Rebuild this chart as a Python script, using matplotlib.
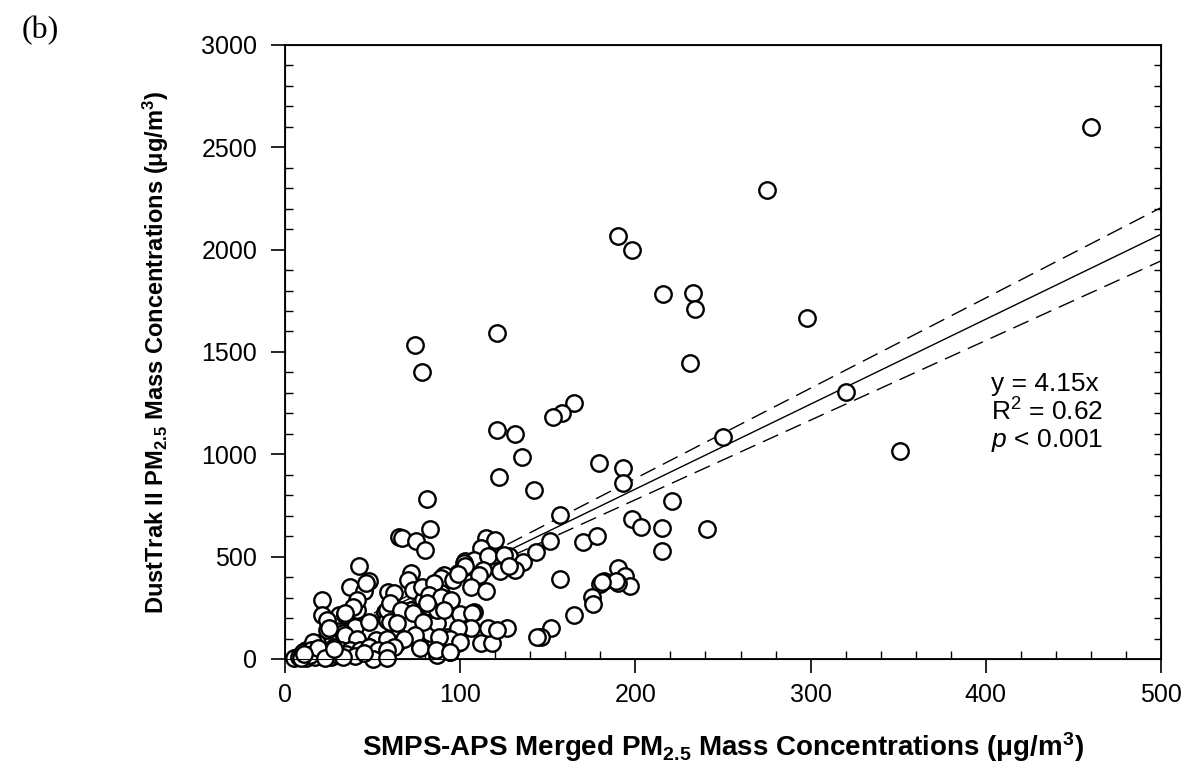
import numpy as np
import matplotlib.pyplot as plt
from matplotlib.ticker import MultipleLocator, NullFormatter

plt.rcParams['font.family'] = ['Liberation Sans', 'DejaVu Sans']
plt.rcParams['mathtext.fontset'] = 'custom'
plt.rcParams['mathtext.rm'] = 'Liberation Sans'
plt.rcParams['mathtext.it'] = 'Liberation Sans:italic'
plt.rcParams['mathtext.bf'] = 'Liberation Sans:bold'

# SMPS-APS merged PM2.5 (x) vs DustTrak II PM2.5 (y), ug/m3
smps = [460, 275, 190, 198, 216, 233, 234, 298, 121, 74, 78, 231, 320, 165, 158, 153,
        121, 131, 250, 351, 135, 179, 193, 193, 122, 142, 81, 221, 157, 198, 203, 215,
        241, 83,
        65, 67, 75, 80, 115, 120, 112, 128, 136, 143, 151, 170, 178, 215, 123, 131,
        103, 108, 116, 125, 102, 99, 72, 42, 113, 128, 111, 91, 89, 103,
        157, 190, 194, 197, 190, 182, 180, 175, 176, 165, 152, 146, 189, 181,
        37, 48, 45, 21, 21, 24, 31, 34, 59, 70, 73, 79, 83, 96, 106, 100, 108, 115,
        127, 112, 118, 116, 144, 99, 94, 87, 77, 64, 58, 57, 63, 75, 83, 87, 93, 52,
        48, 40, 33, 41, 41, 24, 18, 12, 7, 28, 35, 58, 64, 78, 89, 72, 87, 46, 39,
        34, 58, 25, 48, 34, 41, 58, 62, 16, 85, 62, 60, 82, 89, 81, 95, 91, 66, 73,
        60, 64, 79, 107, 106, 99, 121, 74, 68, 94, 88, 100, 62, 77, 86, 94, 99,
        5, 8, 10, 12, 15, 17, 22, 26, 27, 32, 37, 43, 48, 53, 58, 50, 58, 20, 14, 9,
        30, 35, 40, 45, 25, 19, 23, 33, 11, 28]
dusttrak = [2600, 2290, 2065, 2000, 1785, 1790, 1710, 1665, 1595, 1535, 1400, 1445, 1305,
            1253, 1204, 1180, 1117, 1100, 1085, 1015, 987, 959, 935, 858, 889, 828, 783,
            770, 703, 683, 644, 640, 637, 634,
            594, 592, 578, 534, 590, 580, 544, 501, 472, 521, 578, 572, 599, 526, 428, 433,
            477, 485, 501, 510, 469, 420, 420, 452, 436, 452, 412, 412, 394, 452,
            390, 444, 403, 359, 371, 382, 368, 305, 270, 214, 150, 109, 379, 375,
            354, 379, 330, 289, 216, 142, 216, 216, 325, 387, 338, 289, 256, 387, 354, 222,
            231, 330, 150, 77, 77, 150, 109, 77, 36, 20, 60, 77, 93, 231, 150, 118, 126,
            175, 109, 93, 60, 158, 126, 240, 289, 191, 77, 44, 11, 60, 44, 191, 240, 354,
            322, 240, 240, 371, 256, 224, 240, 150, 183, 118, 100, 100, 183, 85, 371, 322,
            273, 314, 305, 273, 289, 240, 240, 224, 183, 175, 183, 227, 150, 150, 142, 118,
            100, 100, 109, 85, 60, 52, 44, 36, 417,
            3, 11, 36, 3, 44, 11, 20, 11, 36, 44, 44, 44, 60, 44, 44, 0, 3, 30, 20, 5,
            20, 25, 15, 30, 40, 55, 5, 8, 25, 50]

slope = 4.15
slope_lo = 3.89
slope_hi = 4.41
fit_x = [0, 500]

fig = plt.figure(figsize=(11.86, 7.75), dpi=100)
ax = fig.add_axes([0.2403, 0.1497, 0.7386, 0.7923])

fx = np.array(fit_x)
ax.plot(fx, slope * fx, color='black', lw=1.0, zorder=2)
ax.plot(fx, slope_hi * fx, color='black', lw=1.0, ls=(0, (12, 6)), zorder=2)
ax.plot(fx, slope_lo * fx, color='black', lw=1.0, ls=(0, (12, 6)), zorder=2)

ax.scatter(smps, dusttrak, s=140, facecolor='white', edgecolor='black',
           linewidths=1.7, zorder=3, clip_on=False)

ax.set_xlim(0, 500)
ax.set_ylim(0, 3000)
ax.xaxis.set_major_locator(MultipleLocator(100))
ax.xaxis.set_minor_locator(MultipleLocator(20))
ax.yaxis.set_major_locator(MultipleLocator(500))
ax.yaxis.set_minor_locator(MultipleLocator(100))
ax.tick_params(which='major', direction='out', length=10, width=1.2, labelsize=18, pad=7)
ax.tick_params(axis='y', which='major', pad=10)
ax.tick_params(which='minor', direction='in', length=6, width=1.0)
for s in ax.spines.values():
    s.set_linewidth(1.3)

# right side: minor ticks only, pointing in
ax2 = ax.twinx()
ax2.set_ylim(0, 3000)
ax2.yaxis.set_major_locator(MultipleLocator(3000))
ax2.yaxis.set_minor_locator(MultipleLocator(100))
ax2.yaxis.set_major_formatter(NullFormatter())
ax2.tick_params(which='major', length=0)
ax2.tick_params(which='minor', direction='in', length=5, width=1.0)

ax.set_xlabel(r'SMPS-APS Merged PM$_{\mathbf{2.5}}$ Mass Concentrations ($\mathbf{\mu}$g/m$^{\mathbf{3}}$)',
              fontsize=20, fontweight='bold', labelpad=17)
ax.set_ylabel(r'DustTrak II PM$_{\mathbf{2.5}}$ Mass Concentrations ($\mathbf{\mu}$g/m$^{\mathbf{3}}$)',
              fontsize=17, fontweight='bold', labelpad=22)

ax.text(403, 1343, 'y = 4.15x', fontsize=19, va='center')
ax.text(403, 1205, r'R$^2$ = 0.62', fontsize=19, va='center')
ax.text(403, 1068, r'$p$ < 0.001', fontsize=19, va='center')

fig.text(0.018, 0.961, '(b)', fontsize=23, family='Liberation Serif', va='center')

fig.savefig('out.png', dpi=100)
